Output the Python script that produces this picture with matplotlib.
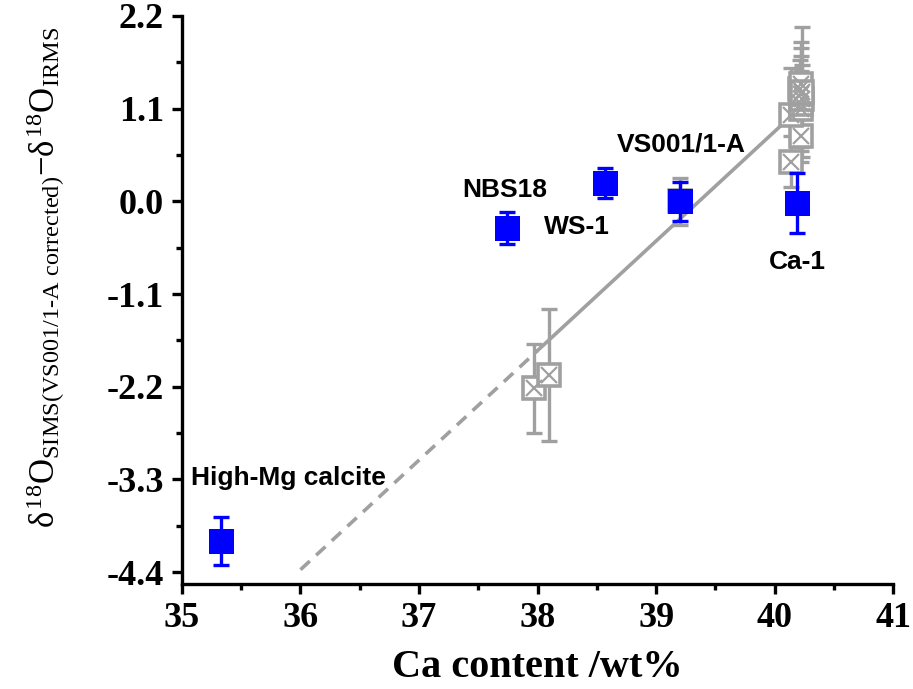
import numpy as np
import matplotlib
matplotlib.use('Agg')
import matplotlib.pyplot as plt

plt.rcParams['mathtext.fontset'] = 'custom'
plt.rcParams['mathtext.rm'] = 'Liberation Serif'
plt.rcParams['mathtext.it'] = 'Liberation Serif'
plt.rcParams['mathtext.bf'] = 'Liberation Serif:bold'

# grey samples (crossed squares)
grey_x = [37.97, 38.10, 39.20, 40.14, 40.22, 40.14, 40.22, 40.22, 40.23, 40.22, 40.21, 40.22, 40.23]
grey_y = [-2.22, -2.06, 0.00, 0.47, 0.77, 1.03, 1.10, 1.16, 1.22, 1.27, 1.33, 1.39, 1.30]
grey_err = [0.53, 0.78, 0.28, 0.30, 0.30, 0.55, 0.45, 0.56, 0.40, 0.55, 0.35, 0.50, 0.77]

# reference materials (blue squares)
ref_names = ['High-Mg calcite', 'NBS18', 'WS-1', 'VS001/1-A', 'Ca-1']
ref_x = [35.33, 37.74, 38.57, 39.20, 40.19]
ref_y = [-4.03, -0.32, 0.22, 0.00, -0.02]
ref_err = [0.28, 0.19, 0.18, 0.23, 0.36]
label_x = [35.08, 37.72, 38.33, 39.21, 40.19]
label_y = [-3.28, 0.135, -0.30, 0.68, -0.72]
label_ha = ['left', 'center', 'center', 'center', 'center']

# linear fit
slope = 1.30
icpt36 = -4.37
fit_solid = [38.0, 40.15]
fit_dash = [36.0, 38.0]

grey = '#a0a0a0'
blue = '#0000ff'

fig = plt.figure(figsize=(9.13, 6.89), dpi=100)
ax = fig.add_axes([0.1993, 0.1524, 0.779, 0.8244])

xs = np.array(fit_solid)
ax.plot(xs, icpt36 + slope * (xs - 36), color=grey, lw=2.6, zorder=2)
xd = np.array(fit_dash)
ax.plot(xd, icpt36 + slope * (xd - 36), color=grey, lw=2.6, ls=(0, (3.5, 2.4)), zorder=2)

ax.errorbar(grey_x, grey_y, yerr=grey_err, fmt='none', ecolor=grey,
            elinewidth=2.4, capsize=6, capthick=2.4, zorder=3)
ax.plot(grey_x, grey_y, 's', ms=16, mfc='white', mec=grey, mew=2.6, zorder=4)
ax.plot(grey_x, grey_y, 'x', ms=12, mec=grey, mew=1.6, zorder=5)

ax.errorbar(ref_x, ref_y, yerr=ref_err, fmt='none', ecolor=blue,
            elinewidth=2.4, capsize=5.5, capthick=2.4, zorder=6)
ax.plot(ref_x, ref_y, 's', ms=18, mfc=blue, mec=blue, mew=0, zorder=7)

for name, lx, ly, ha in zip(ref_names, label_x, label_y, label_ha):
    ax.text(lx, ly, name, ha=ha, va='center', fontsize=19, fontweight='bold',
            family='Liberation Sans', zorder=8)

ax.set_xlim(35, 41)
ax.set_ylim(-4.54, 2.2)
ax.set_xticks([35, 36, 37, 38, 39, 40, 41])
ax.set_xticks(np.arange(35.5, 41, 1.0), minor=True)
yt = [-4.4, -3.3, -2.2, -1.1, 0.0, 1.1, 2.2]
ax.set_yticks(yt)
ax.set_yticklabels(['%.1f' % v for v in yt])
ax.set_yticks(np.arange(-3.85, 2.2, 1.1), minor=True)

for s in ['top', 'right']:
    ax.spines[s].set_visible(False)
for s in ['left', 'bottom']:
    ax.spines[s].set_linewidth(2.4)

ax.tick_params(which='major', direction='out', length=7, width=2.4, pad=6)
ax.tick_params(which='minor', direction='out', length=4, width=2.4)
for lab in ax.get_xticklabels() + ax.get_yticklabels():
    lab.set_family('Liberation Serif')
    lab.set_fontweight('bold')
    lab.set_fontsize(26)

ax.set_xlabel('Ca content /wt%', family='Liberation Serif', fontweight='bold',
              fontsize=29, labelpad=10)
ax.set_ylabel(r'$\delta^{18}\mathrm{O}_{\text{SIMS(VS001/1-A corrected)}}{-}\delta^{18}\mathrm{O}_{\text{IRMS}}$',
              fontsize=25)
ax.yaxis.set_label_coords(-0.162, 0.539)

fig.savefig('out.png', dpi=100)
